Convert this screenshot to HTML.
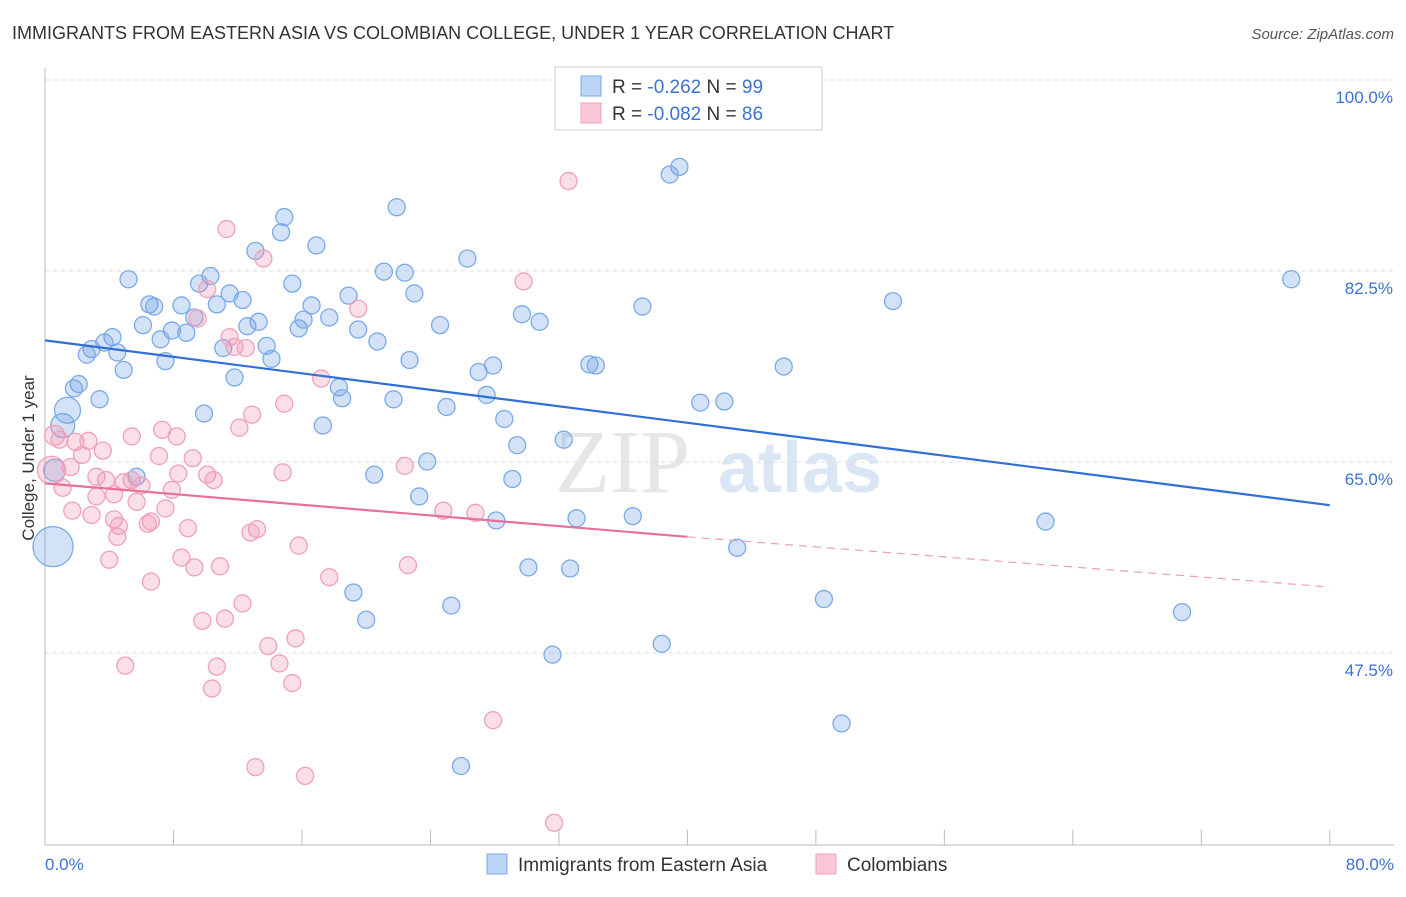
<!DOCTYPE html>
<html><head><meta charset="utf-8"><style>
body{margin:0;background:#fff;font-family:"Liberation Sans",sans-serif}
</style></head><body>
<svg id="chart" width="1406" height="892" xmlns="http://www.w3.org/2000/svg" style="font-family:'Liberation Sans',sans-serif">
<text x="12" y="39" font-size="18" fill="#333">IMMIGRANTS FROM EASTERN ASIA VS COLOMBIAN COLLEGE, UNDER 1 YEAR CORRELATION CHART</text>
<text x="1394" y="39" font-size="15" fill="#555" text-anchor="end" font-style="italic">Source: ZipAtlas.com</text>
<g><text x="555" y="492" font-size="90" fill="#e6e6e6" font-family="Liberation Serif">ZIP</text><text x="718" y="492" font-size="72" fill="#dbe6f4" font-weight="bold">atlas</text></g>
<g id="grid"></g><g id="axes"></g><g id="pts"></g><g id="lines"></g>
<text transform="translate(34,458) rotate(-90)" font-size="17" fill="#333" text-anchor="middle">College, Under 1 year</text>
<text x="45" y="870" font-size="17" fill="#3b73d1">0.0%</text>
<text x="1394" y="870" font-size="17" fill="#3b73d1" text-anchor="end">80.0%</text>
<g>
<rect x="555" y="67" width="267" height="63" fill="#fff" stroke="#ccc"/>
<rect x="581" y="76" width="20" height="20" fill="#bcd4f5" stroke="#7aaae8"/>
<rect x="581" y="103" width="20" height="20" fill="#f8c8d7" stroke="#f0a0bb"/>
<text x="612" y="93" font-size="19" fill="#333">R = <tspan fill="#3b73d1">-0.262</tspan>   N = <tspan fill="#3b73d1">99</tspan></text>
<text x="612" y="120" font-size="19" fill="#333">R = <tspan fill="#3b73d1">-0.082</tspan>   N = <tspan fill="#3b73d1">86</tspan></text>
</g>
<g>
<rect x="487" y="854" width="20" height="20" fill="#bcd4f5" stroke="#7aaae8"/>
<text x="518" y="871" font-size="19" fill="#333">Immigrants from Eastern Asia</text>
<rect x="816" y="854" width="20" height="20" fill="#f8c8d7" stroke="#f0a0bb"/>
<text x="847" y="871" font-size="19" fill="#333">Colombians</text>
</g>
</svg>
<script>
const yTicks=[100,82.5,65,47.5];
const yTickLabels=["100.0%","82.5%","65.0%","47.5%"];
const xTicks=[0,8,16,24,32,40,48,56,64,72,80];
const blueX=[39.5,38.9,21.9,14.9,14.7,16.9,13.1,26.3,5.2,21.1,22.4,10.3,15.4,9.6,11.5,18.9,23.0,6.5,6.8,8.5,10.7,12.3,16.6,37.2,52.8,77.6,29.7,30.8,9.3,6.1,7.9,8.8,7.2,4.2,3.7,13.3,12.6,15.8,16.1,17.7,24.6,19.5,20.7,4.5,2.9,2.6,11.1,13.8,14.1,7.5,22.7,4.9,11.8,33.9,34.3,46.0,27.9,27.0,2.1,1.8,18.3,18.5,21.7,27.5,3.4,25.0,40.8,42.3,1.4,9.9,28.6,1.1,17.3,29.4,32.3,23.8,20.5,29.1,5.7,0.6,23.3,28.1,33.1,36.6,62.3,0.5,43.1,30.1,32.7,19.2,48.5,25.3,20.0,70.8,38.4,31.6,49.6,25.9,37.9];
const blueY=[93.6,92.9,89.9,89.0,87.6,86.4,85.9,85.2,83.3,84.0,83.9,83.6,82.9,82.9,82.0,81.8,82.0,81.0,80.8,80.9,81.0,81.4,80.9,80.8,81.3,83.3,80.1,79.4,79.8,79.1,78.6,78.4,77.8,78.0,77.5,79.4,79.0,78.8,79.6,79.8,79.1,78.7,77.6,76.6,76.9,76.4,77.0,77.2,76.0,75.8,75.9,75.0,74.3,75.5,75.4,75.3,75.4,74.8,73.7,73.3,73.4,72.4,72.3,72.7,72.3,71.6,72.0,72.1,71.3,71.0,70.5,69.9,69.9,68.1,68.6,66.6,65.4,65.0,65.2,65.8,63.4,61.2,61.4,61.6,61.1,58.8,58.7,56.9,56.8,54.6,54.0,53.4,52.1,52.8,49.9,48.9,42.6,38.7,98.2];
const pinkX=[32.6,11.3,13.6,29.8,10.1,19.5,9.5,11.5,11.8,12.5,17.2,14.9,12.9,12.1,7.3,8.2,5.4,0.6,0.9,1.9,2.7,3.6,7.1,9.2,2.3,1.6,0.4,8.3,10.1,14.8,22.4,3.2,3.8,4.9,5.4,10.5,1.1,3.2,4.3,6.0,7.9,5.7,7.5,1.7,2.9,4.3,6.6,6.4,4.6,8.9,13.2,12.8,24.8,26.8,4.5,15.8,4.0,8.5,9.3,10.9,22.6,17.7,6.6,12.3,11.2,9.8,15.6,13.9,14.6,10.7,5.0,15.4,10.4,27.9,13.1,16.2,31.7];
const pinkY=[92.3,87.9,85.2,83.1,82.4,80.6,79.7,78.0,77.1,77.0,74.2,71.9,70.9,69.7,69.5,68.9,68.9,69.0,68.6,68.4,68.5,67.6,67.1,66.9,67.2,66.1,65.8,65.5,65.4,65.6,66.2,65.2,64.9,64.7,64.9,64.9,64.2,63.4,63.6,64.4,64.0,62.9,62.3,62.1,61.7,61.3,61.1,60.9,60.7,60.5,60.4,60.1,62.1,61.9,59.7,58.9,57.6,57.8,56.9,57.0,57.1,56.0,55.6,53.6,52.2,52.0,50.4,49.7,48.1,47.8,47.9,46.3,45.8,42.9,38.6,37.8,33.5];
const blueTrend=[[0,77.7],[80,62.6]];
const pinkTrend=[[0,64.6],[40,59.7],[80,55.1]];
const NS="http://www.w3.org/2000/svg";
const xS=v=>45+v*16.06, yS=v=>97+(100-v)*10.914;
function mk(tag,attrs,parent){const e=document.createElementNS(NS,tag);for(const k in attrs)e.setAttribute(k,attrs[k]);document.getElementById(parent).appendChild(e);return e;}
yTicks.forEach((t,i)=>{
 const g=mk('line',{x1:45,x2:1394,y1:yS(t)-17,y2:yS(t)-17,stroke:'#ddd','stroke-dasharray':'4,4'},'grid');
 
 
 const l=mk('text',{x:1393,y:yS(t)+6,'font-size':17,fill:'#3b73d1','text-anchor':'end'},'grid');
 l.textContent=yTickLabels[i];
 
 
});
const ax=mk('line',{x1:45,x2:45,y1:68,y2:845,stroke:'#bbb'},'axes');


const bx=mk('line',{x1:45,x2:1394,y1:845,y2:845,stroke:'#bbb'},'axes');


xTicks.forEach(t=>{const e=mk('line',{x1:xS(t),x2:xS(t),y1:830,y2:845,stroke:'#bbb'},'axes');
 
 });
const big={68:13,71:12,79:11,85:20};
blueX.forEach((x,i)=>{const c=mk('circle',{cx:xS(x),cy:yS(blueY[i]),r:big[i]||8.5,fill:'rgba(110,160,230,0.3)',stroke:'#7aaae8','stroke-width':1.3},'pts');
 
 });
const bigP={26:14,17:10};
pinkX.forEach((x,i)=>{const c=mk('circle',{cx:xS(x),cy:yS(pinkY[i]),r:bigP[i]||8.5,fill:'rgba(240,150,180,0.3)',stroke:'#f0a0bb','stroke-width':1.3},'pts');
 
 });
const bl=mk('line',{x1:xS(blueTrend[0][0]),y1:yS(blueTrend[0][1]),x2:xS(blueTrend[1][0]),y2:yS(blueTrend[1][1]),stroke:'#2f6fd6','stroke-width':2.2},'lines');


const pl=mk('line',{x1:xS(pinkTrend[0][0]),y1:yS(pinkTrend[0][1]),x2:xS(pinkTrend[1][0]),y2:yS(pinkTrend[1][1]),stroke:'#e8709a','stroke-width':2.2},'lines');


const pd=mk('line',{x1:xS(pinkTrend[1][0]),y1:yS(pinkTrend[1][1]),x2:xS(pinkTrend[2][0]),y2:yS(pinkTrend[2][1]),stroke:'#e8a0b8','stroke-width':1.2,'stroke-dasharray':'8,6'},'lines');


</script>
</body></html>
